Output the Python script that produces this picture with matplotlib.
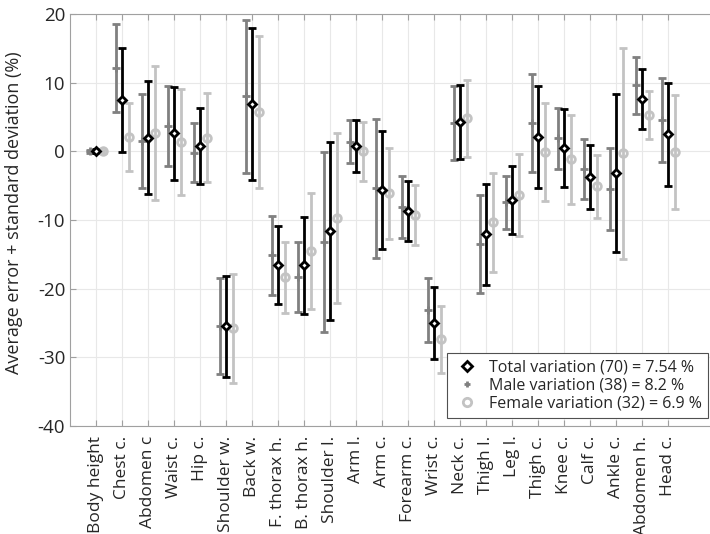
import matplotlib.pyplot as plt
import numpy as np

plt.rcParams['font.family'] = ['Open Sans', 'DejaVu Sans']
plt.rcParams['axes.unicode_minus'] = False

medidas = ["Body height", "Chest c.", "Abdomen c", "Waist c.", "Hip c.",
           "Shoulder w.", "Back w.", "F. thorax h.", "B. thorax h.",
           "Shoulder l.", "Arm l.", "Arm c.", "Forearm c.", "Wrist c.",
           "Neck c.", "Thigh l.", "Leg l.", "Thigh c.", "Knee c.", "Calf c.",
           "Ankle c.", "Abdomen h.", "Head c."]

# media y desviacion estandar (%)
total_media = [0, 7.5, 2.0, 2.6, 0.8, -25.5, 6.9, -16.6, -16.6, -11.6, 0.8,
               -5.6, -8.65, -25.05, 4.3, -12.1, -7.1, 2.1, 0.5, -3.75, -3.1,
               7.6, 2.5]
total_std = [0.3, 7.6, 8.2, 6.8, 5.5, 7.4, 11.1, 5.7, 7.05, 12.9, 3.75, 8.6,
             4.4, 5.25, 5.4, 7.3, 4.9, 7.4, 5.65, 4.6, 11.5, 4.4, 7.5]

hombre_media = [0, 12.1, 1.5, 3.7, -0.2, -25.4, 8.0, -15.1, -18.3, -13.2, 1.4,
                -5.4, -8.05, -23.1, 4.1, -13.5, -7.4, 4.1, 1.9, -2.6, -5.5,
                9.6, 4.55]
hombre_std = [0.2, 6.4, 6.8, 5.8, 4.3, 7.0, 11.1, 5.75, 5.1, 13.1, 3.1, 10.1,
              4.5, 4.7, 5.35, 7.2, 3.85, 7.15, 4.4, 4.4, 6.0, 4.1, 6.1]

mujer_media = [0, 2.1, 2.7, 1.35, 2.0, -25.8, 5.7, -18.35, -14.5, -9.7, 0.0,
               -6.1, -9.3, -27.4, 4.8, -10.35, -6.35, -0.1, -1.15, -5.1, -0.3,
               5.3, -0.1]
mujer_std = [0.2, 4.95, 9.8, 7.75, 6.5, 7.9, 11.1, 5.2, 8.5, 12.4, 4.3, 6.6,
             4.4, 4.9, 5.6, 7.15, 6.0, 7.2, 6.5, 4.55, 15.4, 3.55, 8.3]

etiquetas = ["Total variation (70) = 7.54 %", "Male variation (38) = 8.2 %",
             "Female variation (32) = 6.9 %"]

x = np.arange(1, len(medidas) + 1)
gris = "#808080"
gris_claro = "#c3c3c3"

fig = plt.figure(figsize=(7.1, 5.34), dpi=100)
ax = fig.add_axes([70 / 710, 1 - 426 / 534, 650 / 710, 412 / 534])

ax.errorbar(x - 0.25, hombre_media, yerr=hombre_std, fmt="none", ecolor=gris,
            elinewidth=2, capsize=3, capthick=2, zorder=3)
ax.errorbar(x, total_media, yerr=total_std, fmt="none", ecolor="black",
            elinewidth=2, capsize=3, capthick=2, zorder=4)
ax.errorbar(x + 0.25, mujer_media, yerr=mujer_std, fmt="none", ecolor=gris_claro,
            elinewidth=2, capsize=3, capthick=2, zorder=3)

ax.plot(x - 0.25, hombre_media, "+", color=gris, ms=5.5, mew=2, zorder=5)
ax.plot(x + 0.25, mujer_media, "o", mfc="none", mec=gris_claro, ms=5.5, mew=2, zorder=5)
ax.plot(x, total_media, "D", mfc="white", mec="black", ms=4.5, mew=2, zorder=6)

h1, = ax.plot([], [], "D", mfc="white", mec="black", ms=5, mew=2)
h2, = ax.plot([], [], "+", color=gris, ms=5, mew=2)
h3, = ax.plot([], [], "o", mfc="white", mec=gris_claro, ms=6, mew=2)
leg = fig.legend([h1, h2, h3], etiquetas, loc="lower right", fontsize=11.5,
                 frameon=True, fancybox=False, framealpha=1, borderpad=0.4,
                 labelspacing=0.12, handletextpad=0.5, handlelength=1.7,
                 borderaxespad=0, bbox_to_anchor=(708 / 710, 1 - 418 / 534))
leg.get_frame().set_edgecolor("#505050")
leg.get_frame().set_linewidth(0.8)
for t in leg.get_texts():
    t.set_color("#262626")

ax.set_xlim(0, 650 / 26)
ax.set_ylim(-40, 20)
ax.set_xticks(x)
ax.set_xticklabels(medidas, rotation=90, fontsize=12.5, color="#262626")
ax.set_yticks(np.arange(-40, 21, 10))
ax.tick_params(axis="y", labelsize=13.5, labelcolor="#262626")
ax.tick_params(axis="x", pad=7)
ax.tick_params(direction="in", top=True, right=True, length=4, color="#a0a0a0")
ax.grid(True, color="#e8e8e8", linewidth=0.8)
ax.set_axisbelow(True)
for s in ax.spines.values():
    s.set_color("#a0a0a0")
ax.set_ylabel("Average error + standard deviation (%)", fontsize=13, color="#262626")
ax.yaxis.set_label_coords(-0.073, 0.517)

fig.savefig("out.png", dpi=100)
